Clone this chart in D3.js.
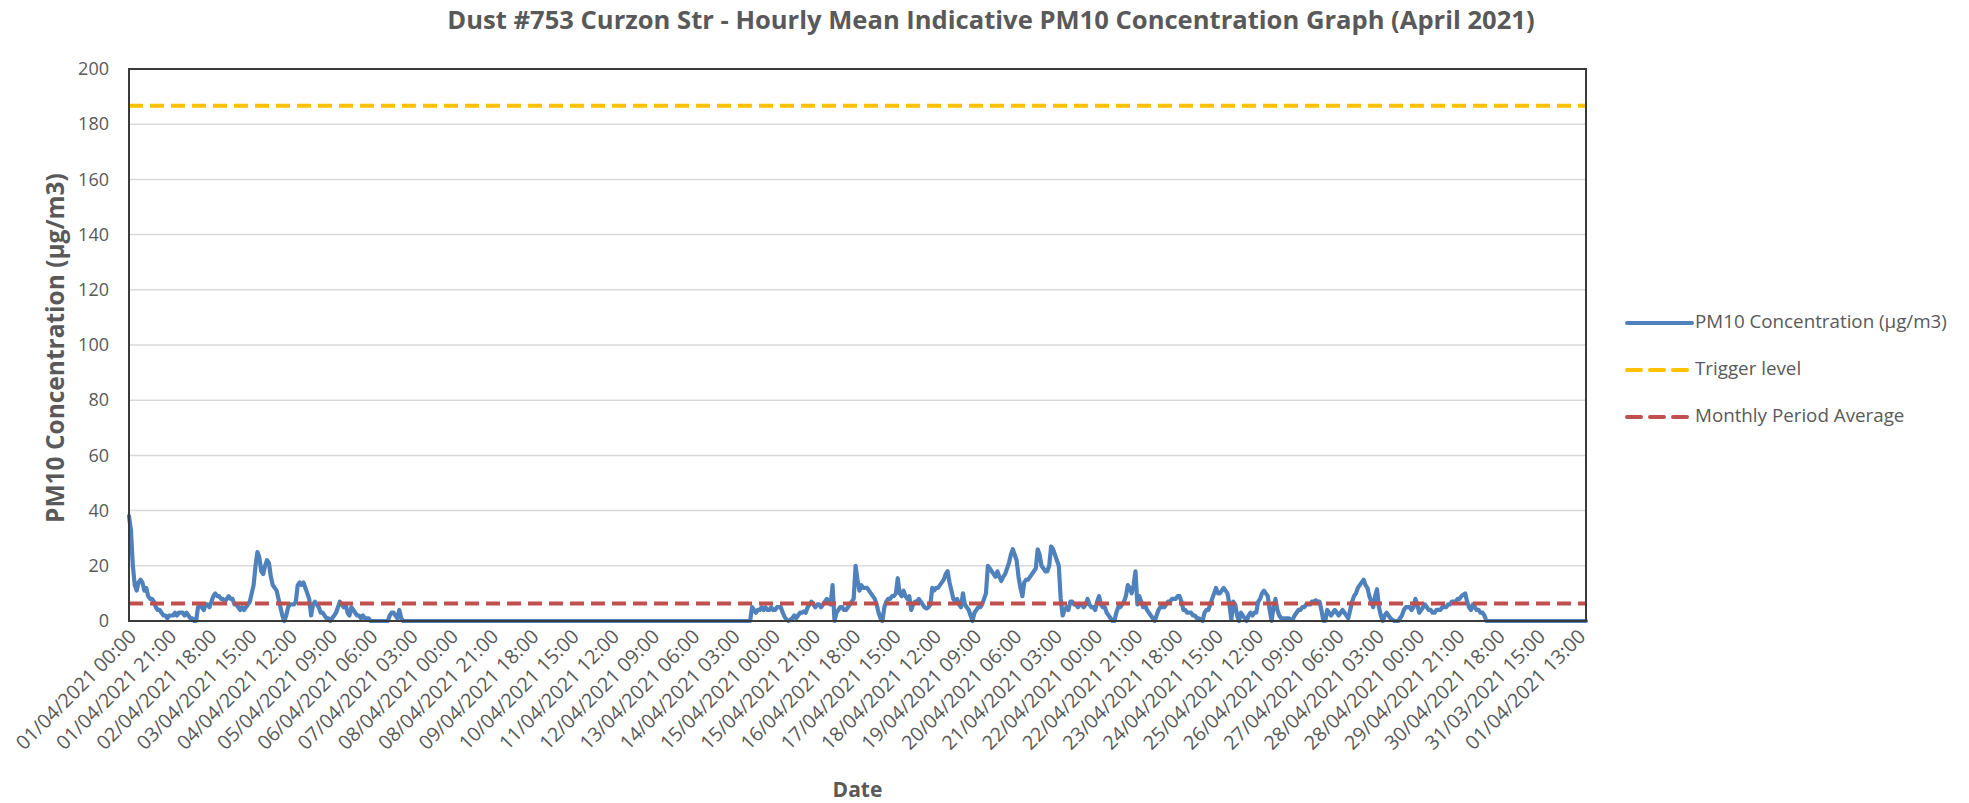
<!DOCTYPE html>
<html>
<head>
<meta charset="utf-8">
<script src="https://cdn.jsdelivr.net/npm/d3@7"></script>
<style>
  html, body { margin: 0; padding: 0; background: #fff; overflow: hidden; }
  svg { display: block; }
  text { font-family: "Open Sans", "Liberation Sans", sans-serif; fill: #595959; }
</style>
</head>
<body>
<div id="chart"></div>
<script>
// Hourly PM10 readings, one row per day (the last rows are the trailing empty records)
const pm10Values = [
  38,33,20,13,11,14,15,14,11,12,9,8,8,7,5,4,4,3,2,2,1,2,2,2,
  3,2,3,3,3,2,3,2,1,1,0,0,5,6,5,4,6,6,5,7,9,10,9,9,
  8,8,7,8,9,8,8,6,6,5,4,5,4,5,6,7,10,13,20,25,23,18,17,20,
  22,21,16,13,12,11,8,5,2,0,2,5,6,6,6,7,13,14,13,14,12,10,8,2,
  6,7,6,5,3,3,2,1,1,0,1,2,3,5,7,6,5,6,3,2,5,4,3,2,
  2,1,2,1,1,1,0,0,0,0,0,0,0,0,0,0,2,3,3,2,1,4,1,0,
  0,0,0,0,0,0,0,0,0,0,0,0,0,0,0,0,0,0,0,0,0,0,0,0,
  0,0,0,0,0,0,0,0,0,0,0,0,0,0,0,0,0,0,0,0,0,0,0,0,
  0,0,0,0,0,0,0,0,0,0,0,0,0,0,0,0,0,0,0,0,0,0,0,0,
  0,0,0,0,0,0,0,0,0,0,0,0,0,0,0,0,0,0,0,0,0,0,0,0,
  0,0,0,0,0,0,0,0,0,0,0,0,0,0,0,0,0,0,0,0,0,0,0,0,
  0,0,0,0,0,0,0,0,0,0,0,0,0,0,0,0,0,0,0,0,0,0,0,0,
  0,0,0,0,0,0,0,0,0,0,0,0,0,0,0,0,0,0,0,0,0,0,0,0,
  0,0,0,0,0,0,0,0,0,0,0,0,0,5,4,3,4,4,5,4,5,4,4,5,
  4,4,5,5,5,3,1.5,0.5,0,0.5,1,2,1,2,3,3,3.5,3,5,6,7,6,5,6,
  6,5,6,7,8,7,6,13,0,3,4,5,5,4,4,5,6,7,8,20,15,11,13,12,
  12,12,11,10,9,8,6,3,1,0,5,7,8,8,9,9,10,15.5,10,9,11,9,8,9,
  4,6,7,7,8,7,6,5,4.5,5,6,12,11,12,12,13,14,15,17,18,14,11,8,7,
  8,6,5,10,6,5,4,2,0,3,4,5,5,6,8,10,20,19,18,17,16,18,16,14.5,
  16,17,19,21,24,26,24,22,16,12,9,14,15,15,16,17,18,19,26,24,20,19,18,18,
  20,27,26,24,22,20,8,2,4,5,4,7,7,6,6,5,6,6,5,6,8,6,5,5,
  4,7,9,6,5,5,3,2,1,0,0,3,5,5,6,7,9,13,12,10,13,18,6,9,
  7,5,6,4,3,2,1,0,2,4,5,5,5,6,7,7,8,8,8,9,9,7,4,4,
  3,3,3,2,2,1,1,0.5,0,3,4,4,6,8,10,12,10,10,11,12,11,10,6,0.5,
  7,6,2,0,3,2,1,0,2,3,2,3,3,7,8,10,11,10,9,4,0,5,8,4,
  2,1,1,1,1,1,0.5,0.5,2,3,4,4,5,5,6,6,6,7,7,7.5,7,7,4,0,
  0,4,3,2,3,4,3,2,3,4,3,2,1,4,7,9,10,12,13,14,15,13,12,9,
  7,5,9,11.5,5,2,0,2,3,2,1,0.5,0,0,0,1,2,4,5,5,5,4,5,8,
  6,3,4,5,6,5,4,4,3,3,4,4,4,5,5,5,6,6,7,7,7,8,8,9,
  9.5,10,7,5,4,6,5,4,4,3,3,2,0,0,0,0,0,0,0,0,0,0,0,0,
  0,0,0,0,0,0,0,0,0,0,0,0,0,0,0,0,0,0,0,0,0,0,0,0,
  0,0,0,0,0,0,0,0,0,0,0,0,0,0,0,0,0
];

const tickLabels = [
  '01/04/2021 00:00', '01/04/2021 21:00', '02/04/2021 18:00', '03/04/2021 15:00',
  '04/04/2021 12:00', '05/04/2021 09:00', '06/04/2021 06:00', '07/04/2021 03:00',
  '08/04/2021 00:00', '08/04/2021 21:00', '09/04/2021 18:00', '10/04/2021 15:00',
  '11/04/2021 12:00', '12/04/2021 09:00', '13/04/2021 06:00', '14/04/2021 03:00',
  '15/04/2021 00:00', '15/04/2021 21:00', '16/04/2021 18:00', '17/04/2021 15:00',
  '18/04/2021 12:00', '19/04/2021 09:00', '20/04/2021 06:00', '21/04/2021 03:00',
  '22/04/2021 00:00', '22/04/2021 21:00', '23/04/2021 18:00', '24/04/2021 15:00',
  '25/04/2021 12:00', '26/04/2021 09:00', '27/04/2021 06:00', '28/04/2021 03:00',
  '28/04/2021 00:00', '29/04/2021 21:00', '30/04/2021 18:00', '31/03/2021 15:00',
  '01/04/2021 13:00'
];
const labelEvery = 21;

const yTicks = [0, 20, 40, 60, 80, 100, 120, 140, 160, 180, 200];
const triggerLevel = 186.7;
const monthlyAverage = 6.3;

const seriesNames = ['PM10 Concentration (µg/m3)', 'Trigger level', 'Monthly Period Average'];
const seriesColors = ['#4f81bd', '#ffc000', '#c0504d'];

const width = 1969;
const height = 803;
const margin = { top: 69, right: 383, bottom: 182, left: 129 };
const innerWidth = width - margin.left - margin.right;
const innerHeight = height - margin.top - margin.bottom;

const svg = d3.select('#chart')
  .append('svg')
  .attr('width', width)
  .attr('height', height);

const g = svg.append('g')
  .attr('transform', `translate(${margin.left},${margin.top})`);

const n = pm10Values.length;

const xScale = d3.scaleLinear()
  .domain([0, n - 1])
  .range([0, innerWidth]);

const yScale = d3.scaleLinear()
  .domain([0, 200])
  .range([innerHeight, 0]);

// shrink or grow a text so it spans the width measured on the reference
function fitWidth(sel, target) {
  const w = sel.node().getComputedTextLength();
  const fs = parseFloat(sel.attr('font-size'));
  const size = fs * target / w;
  sel.attr('font-size', size);
  return size;
}

// gridlines
g.append('g')
  .selectAll('line')
  .data(yTicks.filter(d => d > 0 && d < 200))
  .enter()
  .append('line')
  .attr('x1', 0)
  .attr('x2', innerWidth)
  .attr('y1', d => yScale(d))
  .attr('y2', d => yScale(d))
  .attr('stroke', '#d9d9d9')
  .attr('stroke-width', 1.5);

// y axis labels
const yAxis = g.append('g')
  .call(d3.axisLeft(yScale).tickValues(yTicks).tickSize(0).tickPadding(20));
yAxis.select('.domain').remove();
yAxis.selectAll('text')
  .attr('font-size', 18)
  .style('font-family', '"Open Sans", sans-serif')
  .attr('fill', '#595959');

// x axis labels, rotated
const xAxis = g.append('g')
  .attr('transform', `translate(0,${innerHeight})`)
  .call(d3.axisBottom(xScale)
    .tickValues(d3.range(0, n, labelEvery))
    .tickFormat((d, i) => tickLabels[i])
    .tickSize(0));
xAxis.select('.domain').remove();
const xTexts = xAxis.selectAll('text')
  .attr('font-size', 18)
  .style('font-family', '"Open Sans", sans-serif')
  .attr('fill', '#595959')
  .attr('x', 0)
  .attr('y', 0)
  .attr('dy', '0.35em')
  .attr('text-anchor', 'end')
  .attr('transform', 'translate(3,12) rotate(-45)');
const xSize = fitWidth(d3.select(xTexts.nodes()[0]), 160);
xTexts.attr('font-size', xSize);

// series
const line = d3.line()
  .x((d, i) => xScale(i))
  .y(d => yScale(d));

g.append('path')
  .datum(pm10Values)
  .attr('fill', 'none')
  .attr('stroke', seriesColors[0])
  .attr('stroke-width', 4.2)
  .attr('stroke-linejoin', 'round')
  .attr('stroke-linecap', 'round')
  .attr('d', line);

const flat = v => d3.line()
  .x(d => xScale(d))
  .y(() => yScale(v));

g.append('path')
  .datum([0, n - 1])
  .attr('fill', 'none')
  .attr('stroke', seriesColors[1])
  .attr('stroke-width', 4)
  .attr('stroke-dasharray', '14,7')
  .attr('d', flat(triggerLevel));

g.append('path')
  .datum([0, n - 1])
  .attr('fill', 'none')
  .attr('stroke', seriesColors[2])
  .attr('stroke-width', 4)
  .attr('stroke-dasharray', '14,7')
  .attr('d', flat(monthlyAverage));

// plot frame
g.append('rect')
  .attr('width', innerWidth)
  .attr('height', innerHeight)
  .attr('fill', 'none')
  .attr('stroke', '#3a3a3a')
  .attr('stroke-width', 2);

// titles
const title = svg.append('text')
  .attr('x', 991)
  .attr('y', 22)
  .attr('dominant-baseline', 'middle')
  .attr('text-anchor', 'middle')
  .attr('font-size', 22)
  .attr('font-weight', 'bold')
  .text('Dust #753 Curzon Str - Hourly Mean Indicative PM10 Concentration Graph (April 2021)');
fitWidth(title, 1088);

const yTitle = svg.append('text')
  .attr('transform', 'translate(57,348) rotate(-90)')
  .attr('dominant-baseline', 'middle')
  .attr('text-anchor', 'middle')
  .attr('font-size', 22)
  .attr('font-weight', 'bold')
  .text('PM10 Concentration (µg/m3)');
fitWidth(yTitle, 350);

svg.append('text')
  .attr('x', margin.left + innerWidth / 2)
  .attr('y', 791)
  .attr('dominant-baseline', 'middle')
  .attr('text-anchor', 'middle')
  .attr('font-size', 21)
  .attr('font-weight', 'bold')
  .text('Date');

// legend
const legend = svg.append('g')
  .attr('transform', 'translate(1627,323)');

const items = legend.selectAll('g')
  .data(seriesNames)
  .enter()
  .append('g')
  .attr('transform', (d, i) => `translate(0,${i * 47})`);

items.append('line')
  .attr('x1', 0)
  .attr('x2', 65)
  .attr('stroke', (d, i) => seriesColors[i])
  .attr('stroke-width', 4)
  .attr('stroke-linecap', 'round')
  .attr('stroke-dasharray', (d, i) => i === 0 ? null : '14,9');

const legendTexts = items.append('text')
  .attr('x', 68)
  .attr('dominant-baseline', 'middle')
  .attr('font-size', 18)
  .text(d => d);
const legendSize = fitWidth(d3.select(legendTexts.nodes()[0]), 252);
legendTexts.attr('font-size', legendSize);
</script>
</body>
</html>
